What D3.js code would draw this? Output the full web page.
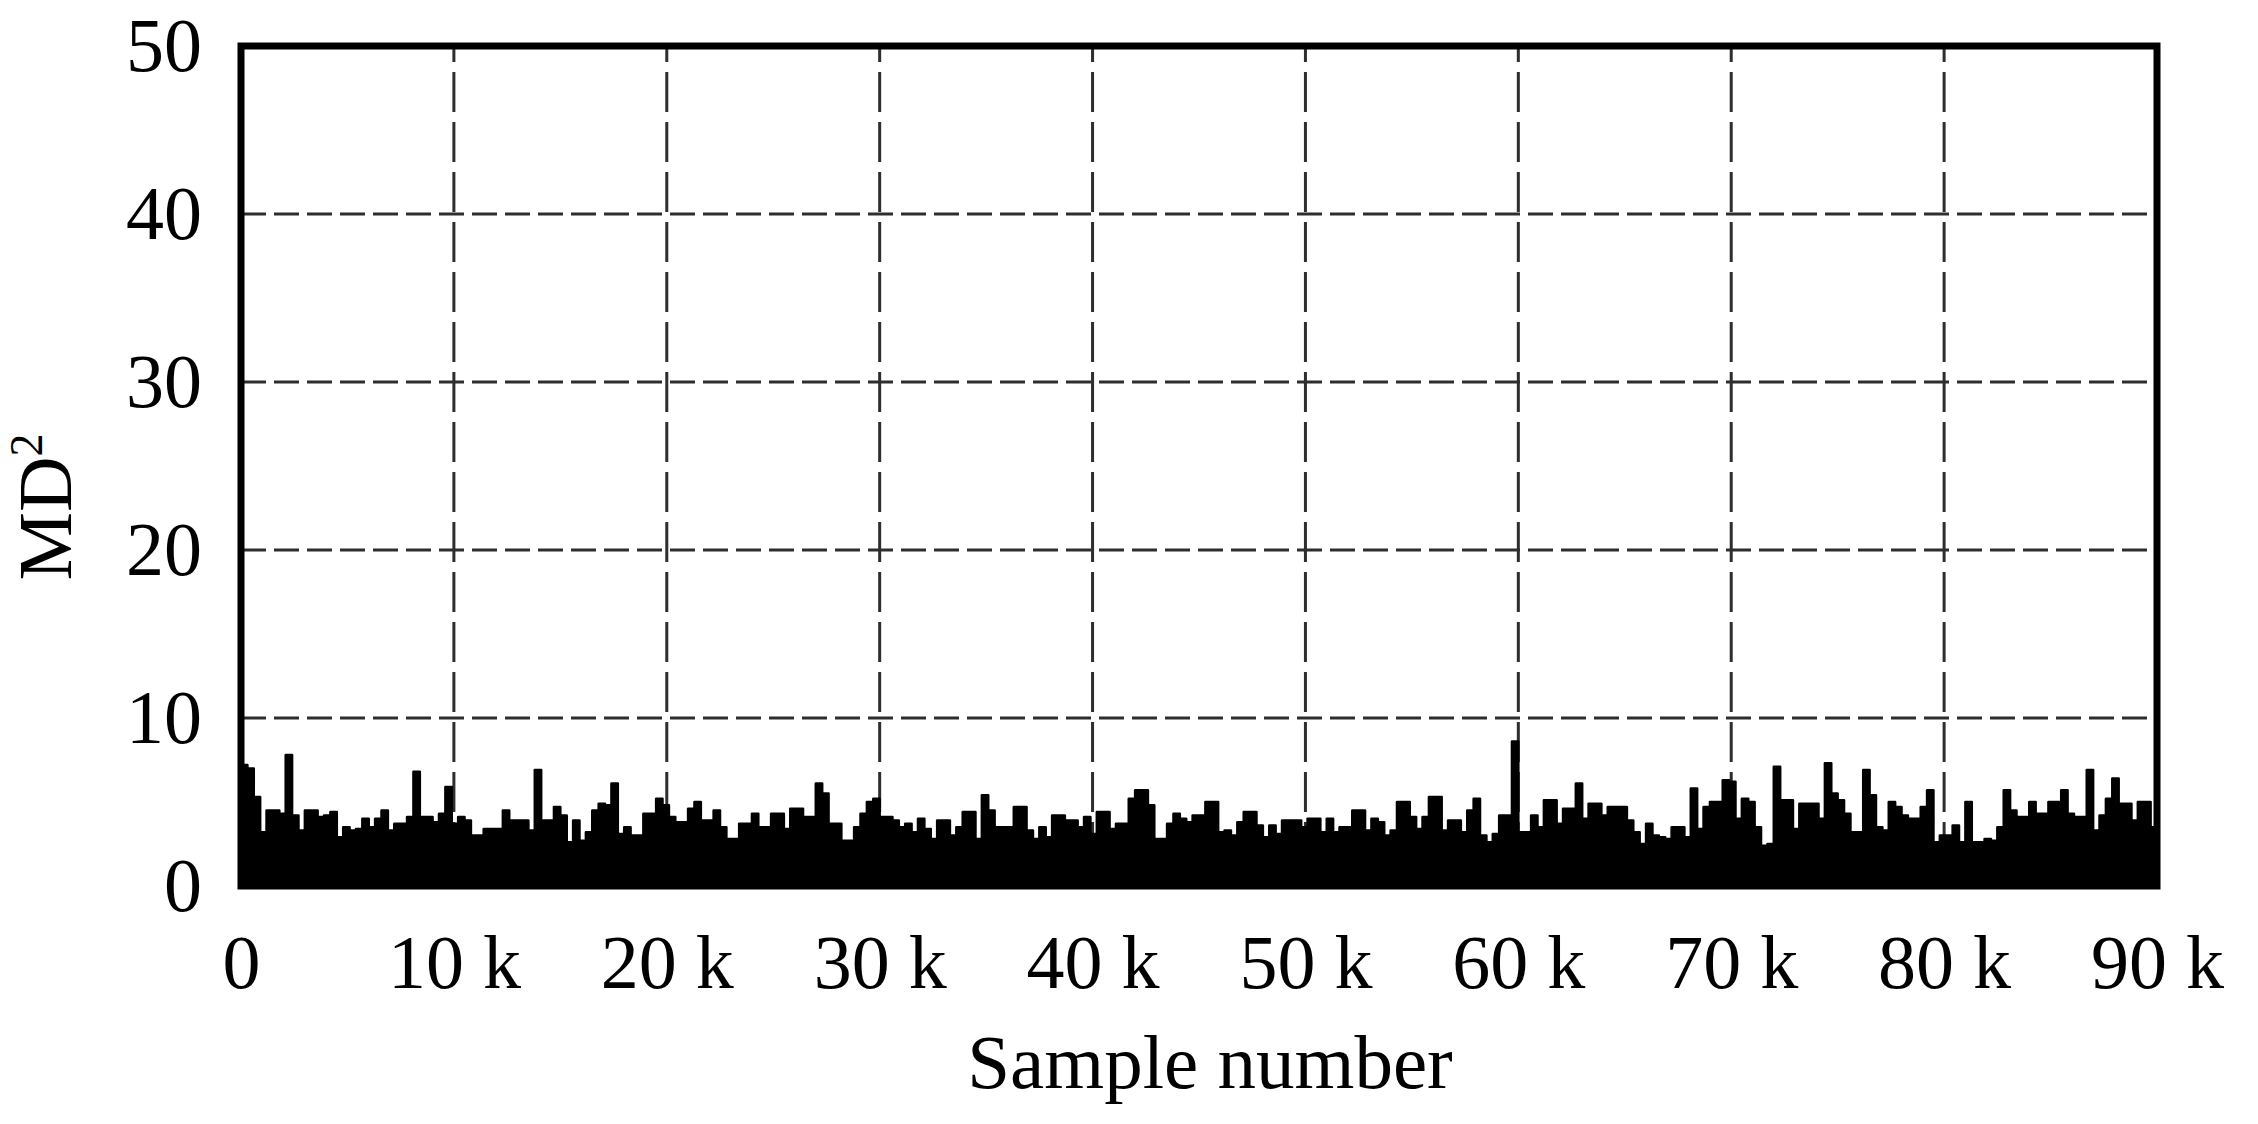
<!DOCTYPE html>
<html><head><meta charset="utf-8">
<script src="https://cdn.jsdelivr.net/npm/d3@7"></script>
<style>
body{margin:0;background:#fff;}
svg{display:block;}
text{font-family:"Liberation Serif","Times New Roman",serif;fill:#000;}
</style>
</head><body>
<svg id="chart" width="2258" height="1124"></svg>
<script>
// ---- data ----
const binSize = 300; // samples per bin
const md2 = [
7.2,7.0,5.3,3.2,4.5,4.5,4.3,7.8,4.2,3.3,
4.5,4.5,4.1,4.2,4.4,2.9,3.5,3.3,3.4,4.0,
3.5,4.0,4.5,3.3,3.7,3.7,4.1,6.8,4.1,4.1,
3.8,4.3,5.9,3.7,4.1,3.9,3.0,3.0,3.4,3.4,
3.4,4.5,3.9,3.9,3.9,3.3,6.9,3.9,3.9,4.7,
4.2,2.6,3.9,2.7,3.2,4.5,4.9,4.8,6.1,3.1,
3.5,3.0,3.0,4.3,4.3,5.2,4.8,4.1,3.8,3.8,
4.6,5.0,3.9,3.9,4.5,3.5,2.8,2.8,3.7,3.7,
4.3,3.5,3.5,4.3,4.3,3.4,4.6,4.6,4.1,4.1,
6.1,5.5,3.7,3.7,2.7,2.7,3.5,4.3,5.0,5.2,
4.1,4.1,3.9,3.5,3.7,3.2,4.0,3.4,2.8,3.9,
3.9,3.0,3.5,4.4,4.4,2.8,5.4,4.5,3.5,3.5,
3.5,4.7,4.7,3.3,2.8,3.5,2.9,4.2,4.2,3.9,
3.9,3.5,4.1,3.1,4.4,4.4,3.4,3.7,3.7,5.2,
5.7,5.7,4.8,2.8,2.8,3.7,4.3,4.0,3.8,4.2,
4.2,5.0,5.0,3.2,3.3,3.0,3.8,4.4,4.4,3.6,
2.9,3.6,3.1,3.9,3.9,3.9,3.5,4.0,4.0,3.2,
4.0,3.2,3.5,3.5,4.5,4.5,3.3,4.0,3.8,3.0,
3.3,5.0,5.0,4.1,3.4,4.1,5.3,5.3,3.3,3.9,
3.9,3.2,4.5,5.2,3.0,2.6,3.1,4.2,4.2,8.6,
3.2,3.2,4.2,3.5,5.1,5.1,3.7,4.6,4.6,6.1,
4.0,4.9,4.9,4.2,4.7,4.7,4.7,3.9,3.2,2.5,
3.7,3.0,2.9,2.8,3.5,3.5,2.9,5.8,3.4,4.7,
5.0,5.0,6.3,6.2,4.0,5.2,5.0,3.5,2.4,2.5,
7.1,5.1,5.1,3.4,4.9,4.9,4.9,4.0,7.3,5.5,
5.1,4.3,3.2,3.2,6.9,5.4,3.5,3.3,5.0,4.7,
4.2,4.0,4.0,4.7,5.7,2.6,3.0,3.0,3.6,2.6,
5.0,2.6,2.6,2.8,2.7,3.5,5.7,4.5,4.1,4.1,
5.0,4.3,4.3,5.0,5.0,5.7,4.3,4.1,4.1,6.9,
3.3,4.2,5.2,6.4,4.9,4.9,3.9,5.0,5.0,3.5
];
const xTicks = [0,10000,20000,30000,40000,50000,60000,70000,80000,90000];
const xTickLabels = ["0","10 k","20 k","30 k","40 k","50 k","60 k","70 k","80 k","90 k"];
const yTicks = [0,10,20,30,40,50];
const yTickLabels = ["0","10","20","30","40","50"];
const xTitle = "Sample number";
const yTitleMain = "MD";
const yTitleSup = "2";

// ---- layout ----
const W = 2258, H = 1124;
const plot = {left:241, right:2157, top:46, bottom:886};
const x = d3.scaleLinear().domain([0, 90000]).range([plot.left, plot.right]);
const y = d3.scaleLinear().domain([0, 50]).range([plot.bottom, plot.top]);
const svg = d3.select("#chart");
svg.append("rect").attr("width", W).attr("height", H).attr("fill", "#fff");

// grid
const grid = svg.append("g");
grid.selectAll("line.hg").data(yTicks.filter(t => t > 0 && t < 50)).join("line")
  .attr("class", "hg")
  .attr("x1", x(0)).attr("x2", x(90000))
  .attr("y1", d => y(d)).attr("y2", d => y(d))
  .attr("stroke", "#2e2e2e").attr("stroke-width", 3)
  .attr("stroke-dasharray", "25,8");
grid.selectAll("line.vg").data(xTicks.filter(t => t > 0 && t < 90000)).join("line")
  .attr("class", "vg")
  .attr("x1", d => x(d)).attr("x2", d => x(d))
  .attr("y1", y(50)).attr("y2", y(0))
  .attr("stroke", "#2e2e2e").attr("stroke-width", 3)
  .attr("stroke-dasharray", "40,10").attr("stroke-dashoffset", 24);

// data area (step)
const pts = md2.map((v, i) => [i * binSize, v]);
pts.push([md2.length * binSize, md2[md2.length - 1]]);
const area = d3.area()
  .x(d => x(d[0])).y0(y(0)).y1(d => y(d[1]))
  .curve(d3.curveStepAfter);
svg.append("path").datum(pts).attr("d", area)
  .attr("fill", "#000").attr("stroke", "#000").attr("stroke-width", 2.5)
  .attr("stroke-linejoin", "round");

// frame
svg.append("rect")
  .attr("x", plot.left).attr("y", plot.top)
  .attr("width", plot.right - plot.left).attr("height", plot.bottom - plot.top)
  .attr("fill", "none").attr("stroke", "#000").attr("stroke-width", 7);

// axes
const yAxis = svg.append("g").attr("transform", `translate(${plot.left},0)`)
  .call(d3.axisLeft(y).tickValues(yTicks).tickFormat((d, i) => yTickLabels[i])
    .tickSize(0).tickPadding(39));
yAxis.select(".domain").remove();
yAxis.selectAll("text").attr("font-size", 76)
  .style("font-family", '"Liberation Serif","Times New Roman",serif').attr("fill", "#000");

const xAxis = svg.append("g").attr("transform", `translate(0,${plot.bottom})`)
  .call(d3.axisBottom(x).tickValues(xTicks).tickFormat((d, i) => xTickLabels[i])
    .tickSize(0).tickPadding(48));
xAxis.select(".domain").remove();
xAxis.selectAll("text").attr("font-size", 76)
  .style("font-family", '"Liberation Serif","Times New Roman",serif').attr("fill", "#000");

// titles
svg.append("text").attr("x", 1210).attr("y", 1088)
  .attr("text-anchor", "middle").attr("font-size", 77).text(xTitle);

const yt = svg.append("text")
  .attr("transform", "translate(71,507) rotate(-90)")
  .attr("text-anchor", "middle").attr("font-size", 77);
yt.append("tspan").text(yTitleMain);
yt.append("tspan").attr("font-size", 46).attr("dy", -29).text(yTitleSup);
</script>
</body></html>
